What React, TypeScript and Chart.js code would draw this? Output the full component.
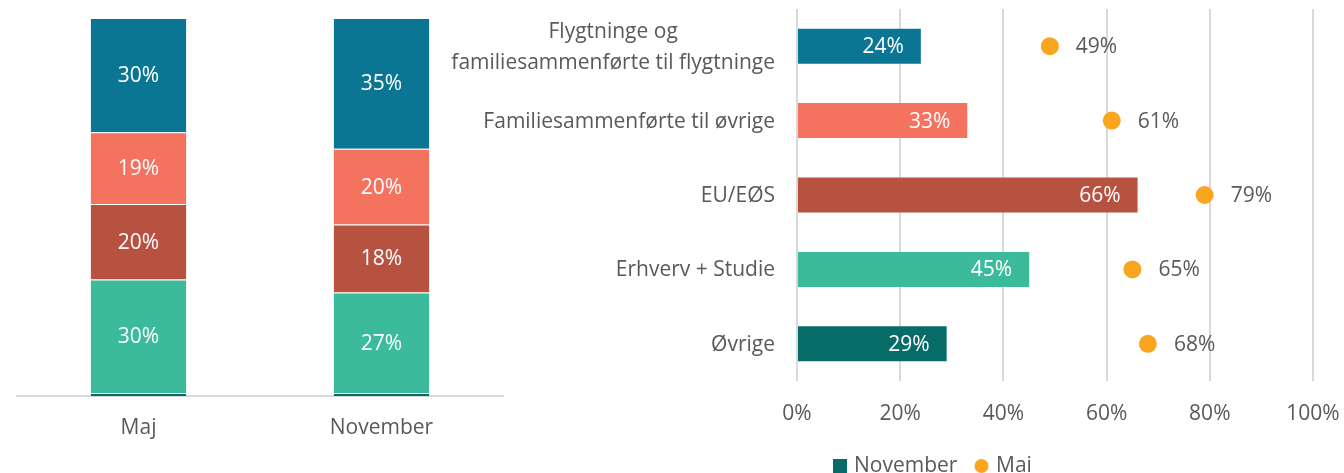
import React, { useEffect, useRef } from "react";
import { Chart, registerables } from "chart.js";

Chart.register(...registerables);

const FONT = "'Open Sans', sans-serif";
const FONT_SIZE = 21;
const TEXT = "#595959";
const GRID = "#D9D9D9";

const BLUE = "#0B7694";
const SALMON = "#F3735E";
const BROWN = "#B85240";
const GREEN = "#3BBB9B";
const DARKTEAL = "#076C68";
const ORANGE = "#F9A61E";

// ---- Left chart: share of groups per period (stacked)
const periods = ["Maj", "November"];
const shareOvrige = [0.8, 0.8];
const shareErhverv = [30, 26.6];
const shareEU = [20, 18];
const shareFamilie = [19, 20];
const shareFlygtninge = [30.2, 34.6];

// ---- Right chart: per group, November vs Mai
const groups: (string | string[])[] = [
  ["Flygtninge og", "familiesammenførte til flygtninge"],
  "Familiesammenførte til øvrige",
  "EU/EØS",
  "Erhverv + Studie",
  "Øvrige",
];
const november = [24, 33, 66, 45, 29];
const mai = [49, 61, 79, 65, 68];
const xTicks = [0, 20, 40, 60, 80, 100];
const groupColors = [BLUE, SALMON, BROWN, GREEN, DARKTEAL];

const stackLabelPlugin = {
  id: "stackLabels",
  afterDatasetsDraw(chart: any) {
    const ctx = chart.ctx;
    ctx.save();
    ctx.font = `${FONT_SIZE}px ${FONT}`;
    ctx.fillStyle = "#FFFFFF";
    ctx.textAlign = "center";
    ctx.textBaseline = "middle";
    chart.data.datasets.forEach((ds: any, i: number) => {
      if (i === 0) return;
      const meta = chart.getDatasetMeta(i);
      meta.data.forEach((el: any, j: number) => {
        const p = el.getProps(["x", "y", "base"], true);
        ctx.fillText(Math.round(ds.data[j]) + "%", p.x, (p.y + p.base) / 2 + 1);
      });
    });
    ctx.restore();
  },
};

const barLabelPlugin = {
  id: "barLabels",
  afterDatasetsDraw(chart: any) {
    const ctx = chart.ctx;
    ctx.save();
    ctx.font = `${FONT_SIZE}px ${FONT}`;
    ctx.textBaseline = "middle";
    const barMeta = chart.getDatasetMeta(0);
    barMeta.data.forEach((el: any, j: number) => {
      ctx.fillStyle = "#FFFFFF";
      ctx.textAlign = "right";
      ctx.fillText(november[j] + "%", el.x - 17, el.y + 1);
    });
    const dotMeta = chart.getDatasetMeta(1);
    dotMeta.data.forEach((el: any, j: number) => {
      ctx.fillStyle = TEXT;
      ctx.textAlign = "left";
      ctx.fillText(mai[j] + "%", el.x + 26, el.y + 1);
    });
    ctx.restore();
  },
};

const yLabelPlugin = {
  id: "yLabels",
  afterDraw(chart: any) {
    const ctx = chart.ctx;
    const yScale = chart.scales.y;
    const right = chart.chartArea.left - 22;
    ctx.save();
    ctx.font = `${FONT_SIZE}px ${FONT}`;
    ctx.fillStyle = TEXT;
    ctx.textAlign = "center";
    ctx.textBaseline = "middle";
    groups.forEach((lab, i) => {
      const y = yScale.getPixelForValue(i);
      const lines = Array.isArray(lab) ? lab : [lab];
      const maxW = Math.max(...lines.map((l) => ctx.measureText(l).width));
      const cx = right - maxW / 2;
      const lh = 31;
      lines.forEach((l, k) => {
        ctx.fillText(l, cx, y + (k - (lines.length - 1) / 2) * lh + 1);
      });
    });
    ctx.restore();
  },
};

const legendPlugin = {
  id: "customLegend",
  afterDraw(chart: any) {
    const ctx = chart.ctx;
    ctx.save();
    ctx.font = `${FONT_SIZE}px ${FONT}`;
    ctx.textBaseline = "alphabetic";
    ctx.textAlign = "left";
    ctx.fillStyle = DARKTEAL;
    ctx.fillRect(393, 459, 14, 14);
    ctx.fillStyle = TEXT;
    ctx.fillText(chart.data.datasets[0].label, 414, 471.5);
    ctx.fillStyle = ORANGE;
    ctx.beginPath();
    ctx.arc(541.5, 466, 7, 0, Math.PI * 2);
    ctx.fill();
    ctx.fillStyle = TEXT;
    ctx.fillText(chart.data.datasets[1].label, 556, 471.5);
    ctx.restore();
  },
};

function LeftChart() {
  const ref = useRef<HTMLCanvasElement>(null);
  useEffect(() => {
    const seam = "rgba(255,255,255,0.3)";
    const mk = (label: string, data: number[], color: string) => ({
      label,
      data,
      backgroundColor: color,
      borderColor: seam,
      borderWidth: 1,
      barPercentage: 0.4,
      categoryPercentage: 1,
    });
    const chart = new Chart(ref.current!, {
      type: "bar",
      data: {
        labels: periods,
        datasets: [
          mk("Øvrige", shareOvrige, DARKTEAL),
          mk("Erhverv + Studie", shareErhverv, GREEN),
          mk("EU/EØS", shareEU, BROWN),
          mk("Familiesammenførte til øvrige", shareFamilie, SALMON),
          mk("Flygtninge og familiesammenførte til flygtninge", shareFlygtninge, BLUE),
        ],
      },
      options: {
        responsive: false,
        animation: false,
        devicePixelRatio: 1,
        layout: { padding: { left: 17, right: 2, top: 18, bottom: 0 } },
        plugins: { legend: { display: false }, tooltip: { enabled: false } },
        scales: {
          x: {
            stacked: true,
            grid: { display: false, drawTicks: false },
            border: { display: true, color: GRID, width: 2 },
            ticks: { color: TEXT, font: { family: FONT, size: FONT_SIZE }, padding: 19 },
            afterFit: (s: any) => {
              s.height = 77;
            },
          },
          y: { stacked: true, display: false, min: 0, max: 100 },
        },
      },
      plugins: [stackLabelPlugin],
    } as any);
    return () => chart.destroy();
  }, []);
  return <canvas ref={ref} width={505} height={473} style={{ display: "block" }} />;
}

function RightChart() {
  const ref = useRef<HTMLCanvasElement>(null);
  useEffect(() => {
    const chart = new Chart(ref.current!, {
      type: "bar",
      data: {
        labels: groups,
        datasets: [
          {
            type: "bar",
            label: "November",
            data: november,
            backgroundColor: groupColors,
            barPercentage: 0.47,
            categoryPercentage: 1,
          },
          {
            type: "line",
            label: "Mai",
            data: mai,
            showLine: false,
            pointRadius: 9,
            pointHoverRadius: 9,
            pointBackgroundColor: ORANGE,
            pointBorderColor: ORANGE,
            pointBorderWidth: 0,
            borderColor: ORANGE,
            backgroundColor: ORANGE,
          },
        ],
      },
      options: {
        indexAxis: "y",
        responsive: false,
        animation: false,
        devicePixelRatio: 1,
        layout: { padding: { left: 0, right: 31, top: 9, bottom: 0 } },
        plugins: { legend: { display: false }, tooltip: { enabled: false } },
        scales: {
          x: {
            type: "linear",
            min: 0,
            max: 100,
            afterBuildTicks: (s: any) => {
              s.ticks = xTicks.map((v) => ({ value: v }));
            },
            grid: { color: GRID, lineWidth: 2, drawTicks: false },
            border: { display: false },
            ticks: {
              color: TEXT,
              font: { family: FONT, size: FONT_SIZE },
              padding: 20,
              callback: (v: any) => v + "%",
            },
            afterFit: (s: any) => {
              s.height = 92;
              s.paddingLeft = 0;
              s.paddingRight = 0;
            },
          },
          y: {
            grid: { display: false, drawTicks: false },
            border: { display: false },
            ticks: { display: false },
            afterFit: (s: any) => {
              s.width = 357;
            },
          },
        },
      },
      plugins: [barLabelPlugin, yLabelPlugin, legendPlugin],
    } as any);
    return () => chart.destroy();
  }, []);
  return <canvas ref={ref} width={904} height={473} style={{ display: "block" }} />;
}

export default function App() {
  return (
    <div style={{ position: "fixed", inset: 0, overflow: "hidden", background: "#FFFFFF" }}>
      <div style={{ position: "absolute", left: 0, top: 0 }}>
        <LeftChart />
      </div>
      <div style={{ position: "absolute", left: 440, top: 0 }}>
        <RightChart />
      </div>
    </div>
  );
}
